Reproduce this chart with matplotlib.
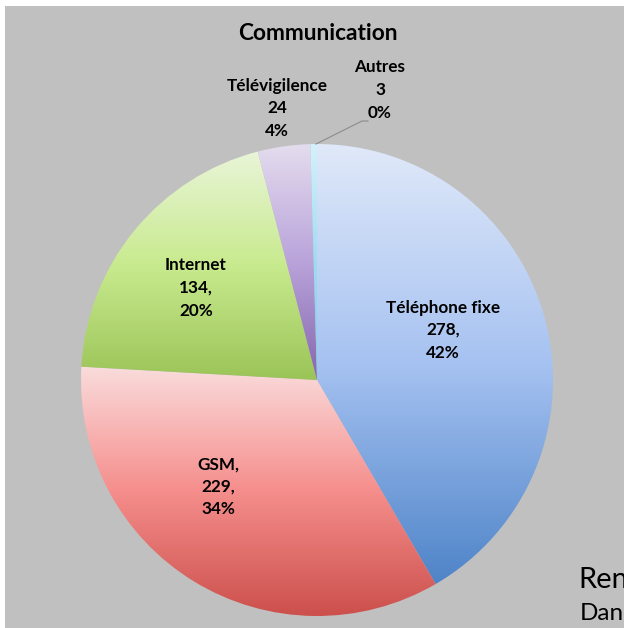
import numpy as np
import matplotlib
matplotlib.use("Agg")
import matplotlib.pyplot as plt
from matplotlib.colors import LinearSegmentedColormap
from matplotlib.patches import Rectangle

plt.rcParams['font.family'] = ['Lato', 'DejaVu Sans']

categories = ["Téléphone fixe", "GSM", "Internet", "Télévigilence", "Autres"]
values = [278, 229, 134, 24, 3]
sep_after_name = ["", ",", "", "", ""]
sep_after_value = [",", ",", ",", "", ""]

# gradient stops per slice (top, middle, bottom)
grads = [
    ["#e0e9f9", "#a6c2f1", "#4e84c8"],
    ["#fadcdc", "#f58e8c", "#cc504c"],
    ["#e9f5d8", "#c8ea8e", "#9bc458"],
    ["#e4dcee", "#b9a3da", "#8566ad"],
    ["#d4f1fb", "#9fdcf4", "#7ecbea"],
]

W, H = 624, 628
fig = plt.figure(figsize=(W / 100, H / 100), dpi=100, facecolor="white")
ax = fig.add_axes([0, 0, 1, 1])
ax.axis("off")

# grey chart background, white strip on top and left
ax.add_patch(Rectangle((5, 0), W, H - 6, facecolor="#c0c0c0", edgecolor="none", zorder=0))

cx, cy, r = 317, H - 380, 236
wedges, _ = ax.pie(values, startangle=90, counterclock=False, center=(cx, cy),
                   radius=r, frame=True, wedgeprops=dict(linewidth=0))

for w, g in zip(wedges, grads):
    w.set_facecolor("none")
    ext = w.get_path().get_extents()
    cmap = LinearSegmentedColormap.from_list("g", g)
    ramp = np.linspace(0, 1, 256).reshape(-1, 1)
    im = ax.imshow(ramp, cmap=cmap, aspect="auto", origin="upper",
                   extent=(ext.x0, ext.x1, ext.y0, ext.y1), zorder=1)
    im.set_clip_path(w)

ax.set_xlim(0, W)
ax.set_ylim(0, H)
ax.set_aspect("auto")
ax.axis("off")

total = sum(values)
label_pos = [(443, 330), (218, 487), (196, 288), (277, 108), (380, 90)]
for name, v, s1, s2, (lx, ly) in zip(categories, values, sep_after_name, sep_after_value, label_pos):
    pct = round(v / total * 100)
    txt = f"{name}{s1}\n{v}{s2}\n{pct}%"
    ax.text(lx, H - ly, txt, ha="center", va="center", fontsize=12.3,
            fontweight="bold", linespacing=1.5, color="black", zorder=3)

# leader line for the smallest slice
ax.plot([316, 362, 368], [H - 144, H - 121, H - 121], color="#8c8c8c", lw=0.8, zorder=2)

ax.text(318, H - 33, "Communication", ha="center", va="center", fontsize=16.3,
        fontweight="bold", color="black", zorder=3)

ax.text(578, H - 580, "Ren", ha="left", va="center", fontsize=21, color="black")
ax.text(580, H - 614, "Dan", ha="left", va="center", fontsize=17.5, color="black")

fig.savefig("out.png", dpi=100, facecolor="white")
